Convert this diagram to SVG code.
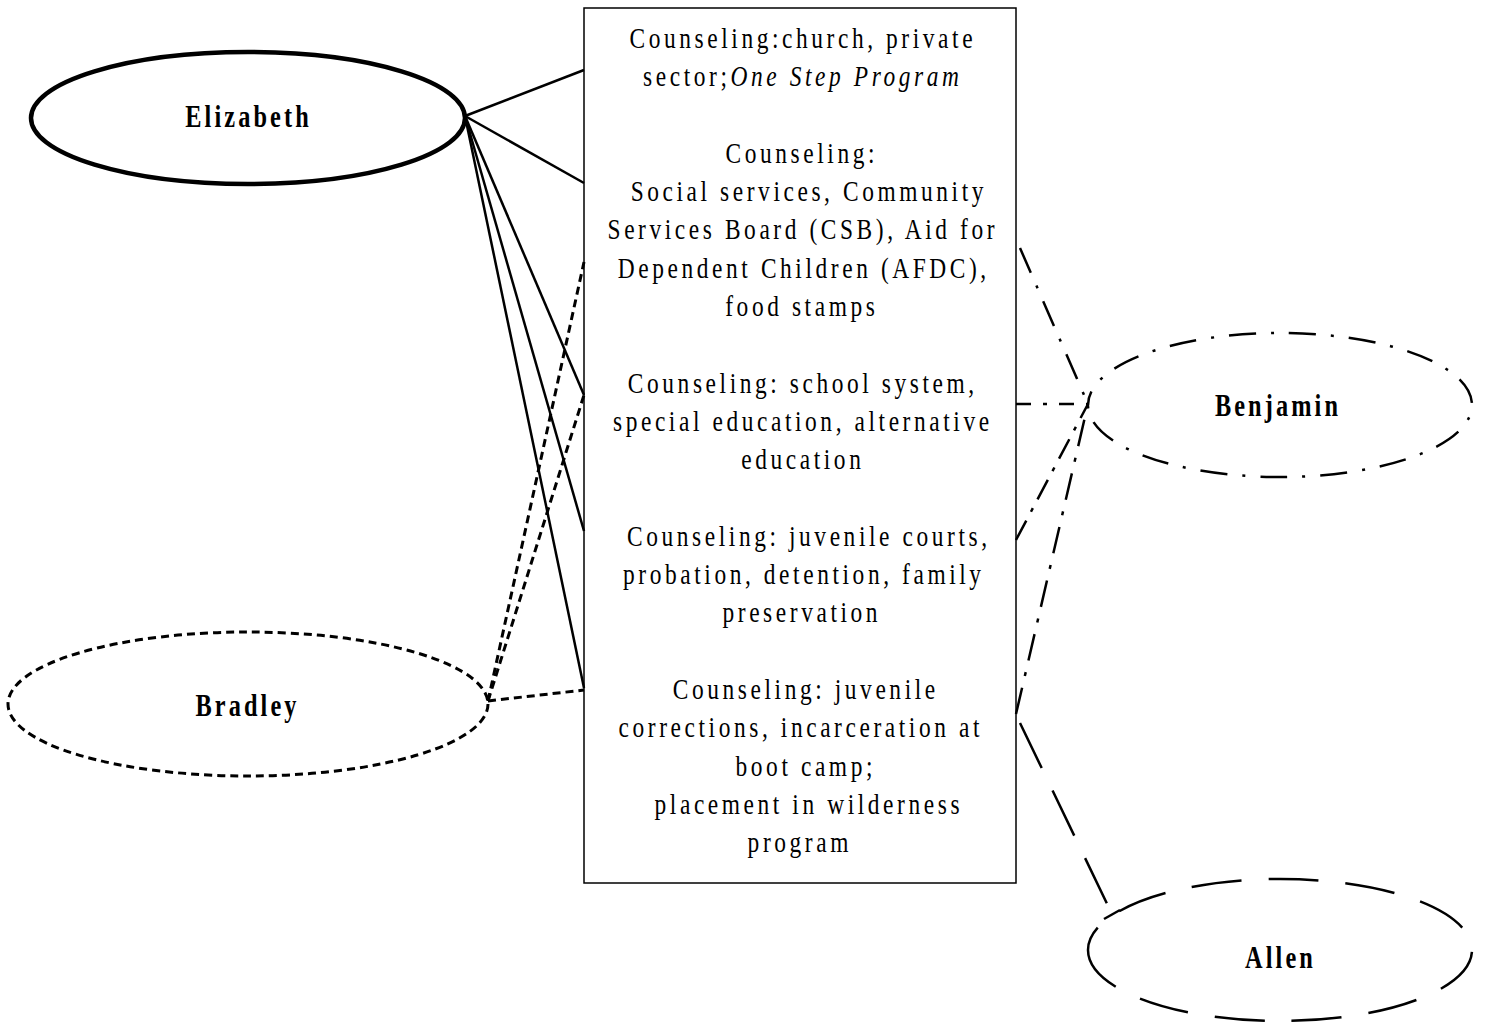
<svg xmlns="http://www.w3.org/2000/svg" width="1487" height="1030" viewBox="0 0 1487 1030">
<style>
.t{font-family:"Liberation Serif","Times New Roman",serif;font-size:30px;letter-spacing:4.6px;fill:#000;text-anchor:middle}
.n{font-family:"Liberation Serif","Times New Roman",serif;font-size:32px;font-weight:bold;letter-spacing:4.1px;fill:#000;text-anchor:middle}
.c{fill:none;stroke:#000}
</style>
<rect width="1487" height="1030" fill="#fff"/>
<g id="connectors">
  <g class="c" stroke-width="2.5">
    <line x1="465" y1="116" x2="584" y2="70"/>
    <line x1="465" y1="116" x2="584" y2="183"/>
    <line x1="465" y1="116" x2="584" y2="395"/>
    <line x1="465" y1="116" x2="584" y2="531"/>
    <line x1="465" y1="116" x2="584" y2="688"/>
  </g>
  <g class="c" stroke-width="3" stroke-dasharray="8 5">
    <line x1="488" y1="701" x2="584" y2="262"/>
    <line x1="488" y1="701" x2="584" y2="395"/>
    <line x1="488" y1="701" x2="584" y2="690"/>
  </g>
  <g class="c" stroke-width="2.5">
    <line x1="1020" y1="248" x2="1088" y2="404" stroke-dasharray="27 14 3 14"/>
    <line x1="1016" y1="404" x2="1088" y2="404" stroke-dasharray="15 12 4 12"/>
    <line x1="1016" y1="540" x2="1088" y2="404" stroke-dasharray="22 10 4 10"/>
    <line x1="1016" y1="714" x2="1088" y2="404" stroke-dasharray="27 12 4 12"/>
  </g>
  <g class="c" stroke-width="2.5">
    <line x1="1020" y1="723" x2="1112" y2="914" stroke-dasharray="50 25"/>
    <line x1="1104" y1="919" x2="1120" y2="910"/>
  </g>
</g>
<g id="box">
  <rect x="584" y="8" width="432" height="875" fill="none" stroke="#000" stroke-width="1.5"/>
  <g transform="translate(800 0) scale(0.78 1)">
    <text class="t" x="3.6" y="48">Counseling:church, private</text>
    <text class="t" x="3.6" y="86.3">sector;<tspan font-style="italic">One Step Program</tspan></text>
    <text class="t" x="2.3" y="162.9">Counseling:</text>
    <text class="t" x="11.3" y="201.2">Social services, Community</text>
    <text class="t" x="3.6" y="239.5">Services Board (CSB), Aid for</text>
    <text class="t" x="4.9" y="277.8">Dependent Children (AFDC),</text>
    <text class="t" x="2.3" y="316.1">food stamps</text>
    <text class="t" x="3.6" y="392.7">Counseling: school system,</text>
    <text class="t" x="3.6" y="431">special education, alternative</text>
    <text class="t" x="3.6" y="469.3">education</text>
    <text class="t" x="11.3" y="545.9">Counseling: juvenile courts,</text>
    <text class="t" x="4.9" y="584.2">probation, detention, family</text>
    <text class="t" x="2.3" y="622.5">preservation</text>
    <text class="t" x="7.4" y="699.1">Counseling: juvenile</text>
    <text class="t" x="1.0" y="737.4">corrections, incarceration at</text>
    <text class="t" x="7.4" y="775.7">boot camp;</text>
    <text class="t" x="11.3" y="814">placement in wilderness</text>
    <text class="t" x="-0.3" y="852.3">program</text>
  </g>
</g>
<g id="elizabeth">
  <ellipse cx="248" cy="118" rx="217" ry="66" fill="none" stroke="#000" stroke-width="4.5"/>
  <text class="n" transform="translate(248.5 127) scale(0.76 1)" x="0" y="0">Elizabeth</text>
</g>
<g id="bradley">
  <ellipse cx="248" cy="704" rx="240" ry="72" fill="none" stroke="#000" stroke-width="3" stroke-dasharray="8 5"/>
  <text class="n" transform="translate(247.5 716) scale(0.76 1)" x="0" y="0">Bradley</text>
</g>
<g id="benjamin">
  <path d="M1088 405 A192 72 0 1 1 1472 405 A192 72 0 1 1 1088 405" fill="none" stroke="#000" stroke-width="2.5" stroke-dasharray="27 15 3 15" stroke-dashoffset="13"/>
  <text class="n" transform="translate(1278 416) scale(0.76 1)" x="0" y="0">Benjamin</text>
</g>
<g id="allen">
  <path d="M1088 950 A192 71 0 1 1 1472 950 A192 71 0 1 1 1088 950" fill="none" stroke="#000" stroke-width="2.5" stroke-dasharray="50 27" stroke-dashoffset="25"/>
  <text class="n" transform="translate(1280.5 968) scale(0.76 1)" x="0" y="0">Allen</text>
</g>
</svg>
